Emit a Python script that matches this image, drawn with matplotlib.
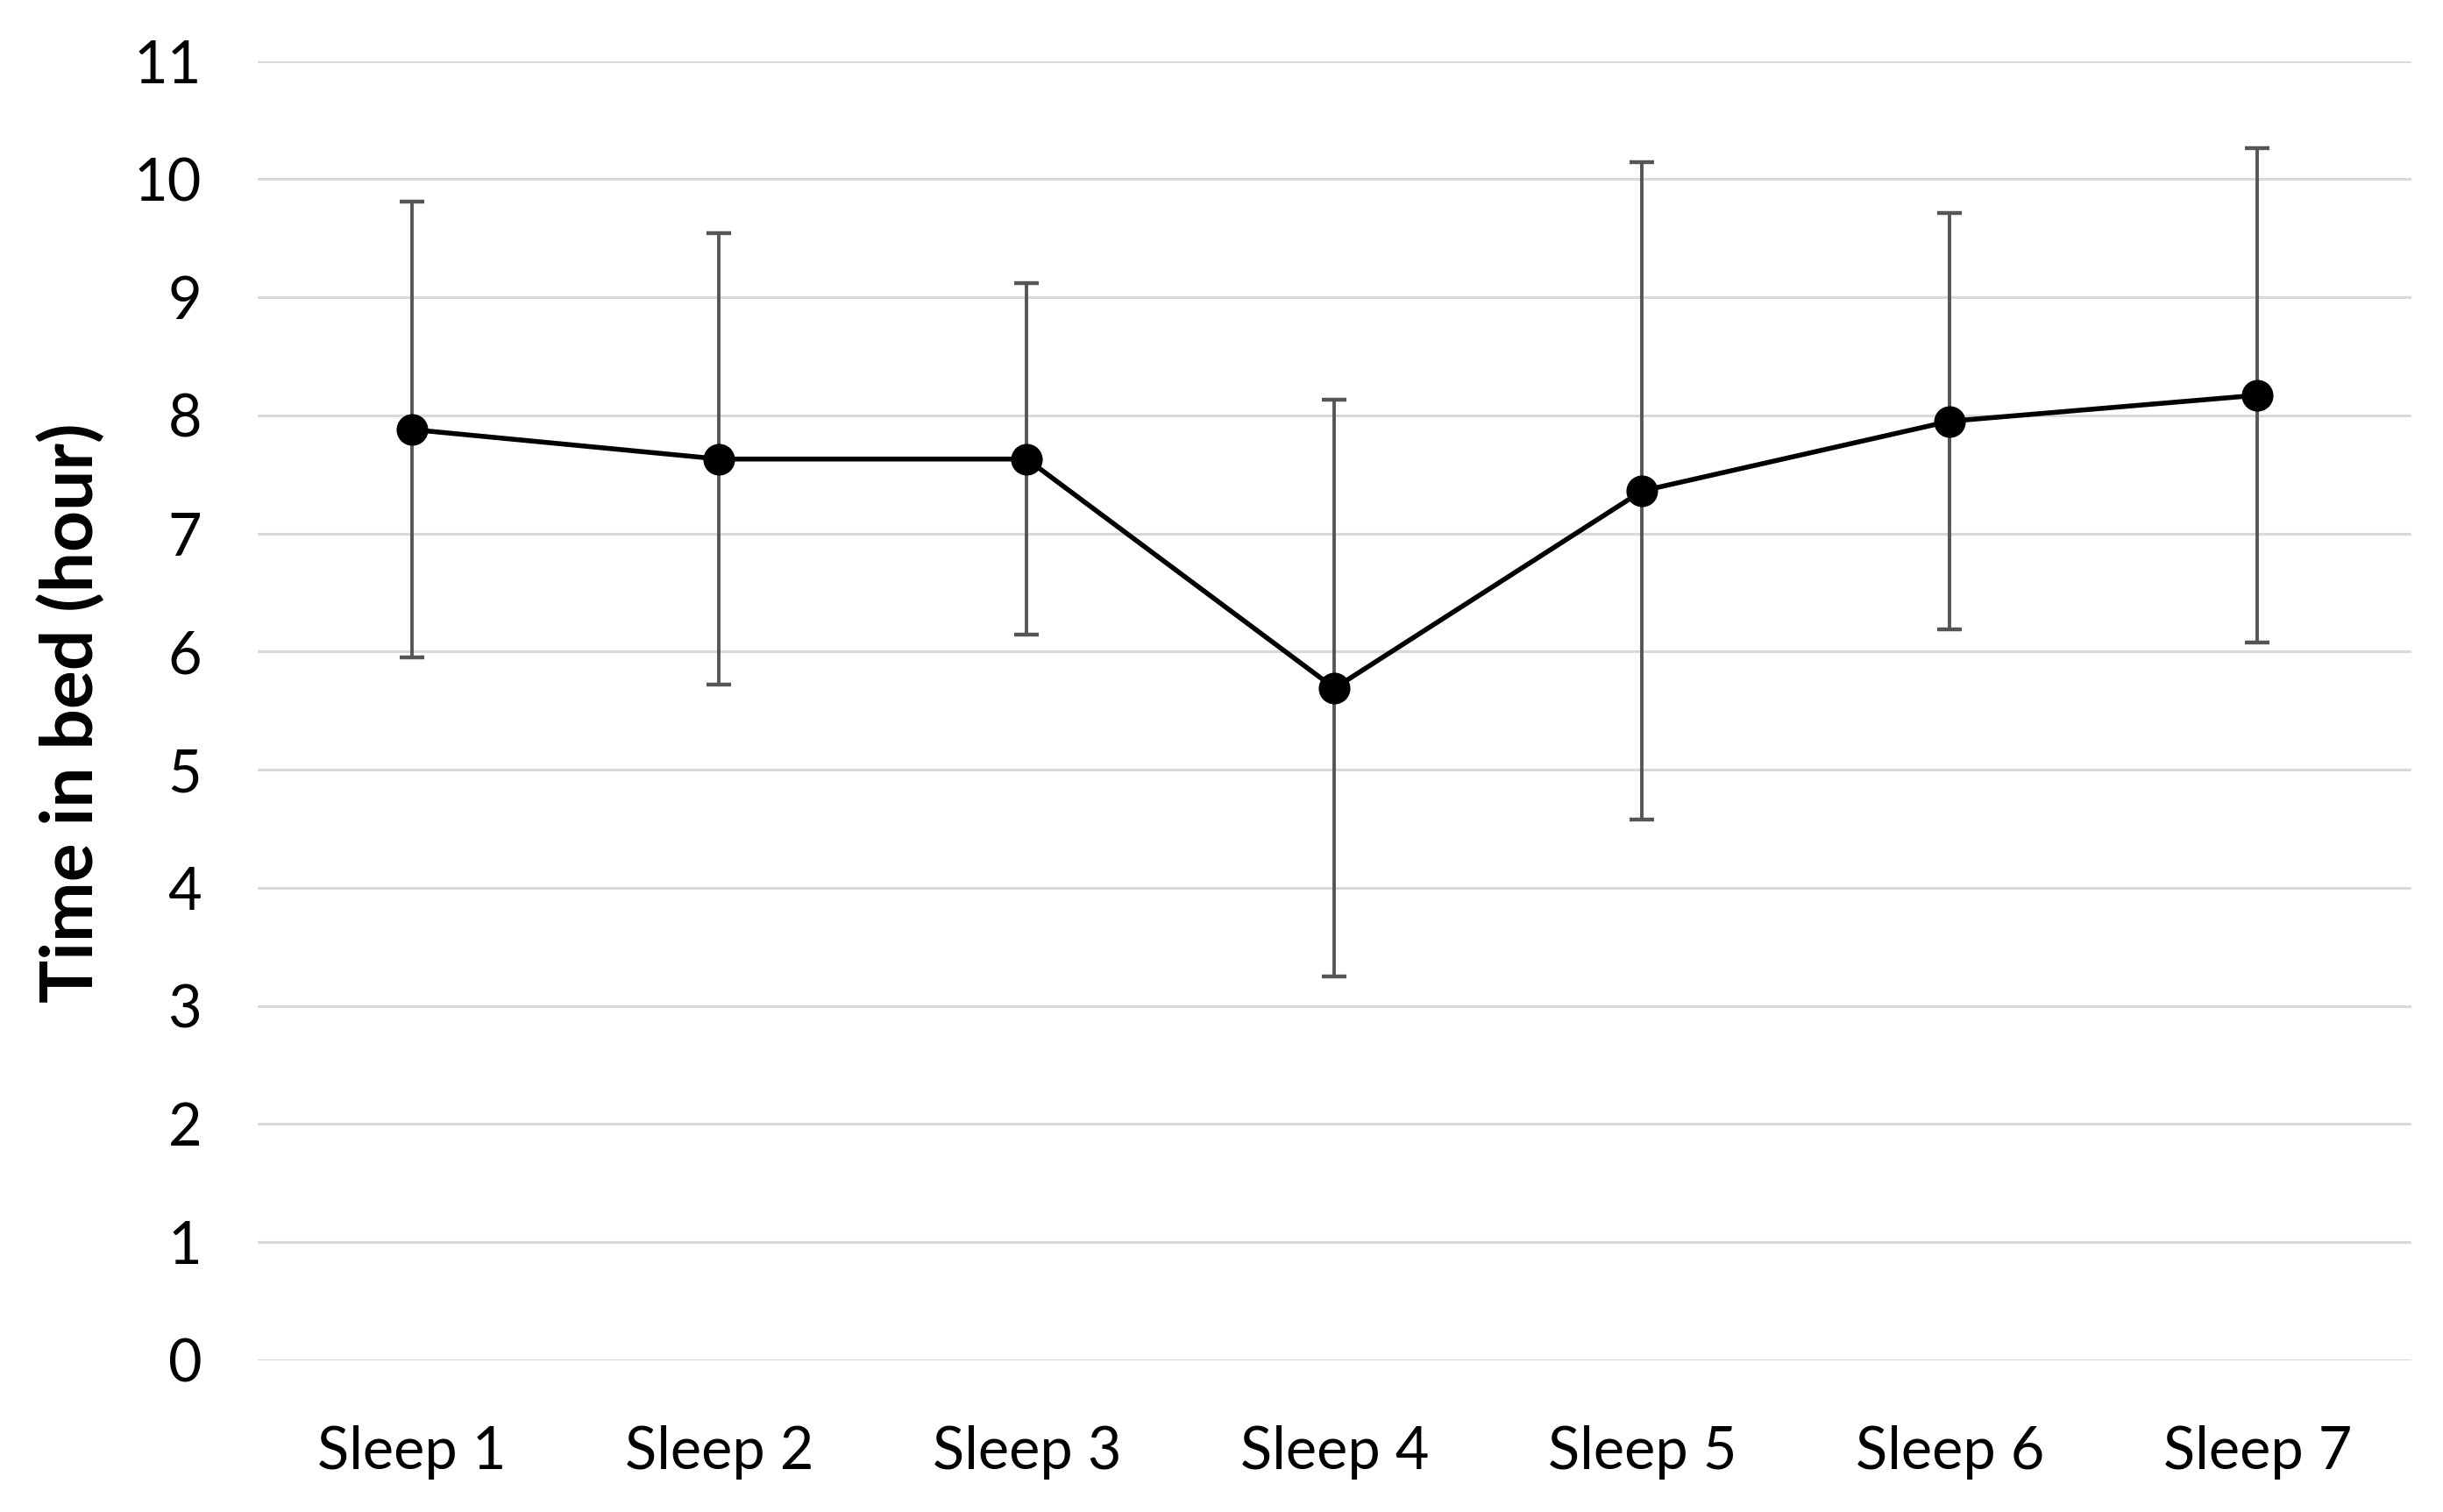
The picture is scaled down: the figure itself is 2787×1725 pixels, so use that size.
import matplotlib
matplotlib.use("Agg")
import matplotlib.pyplot as plt

categories = ["Sleep 1", "Sleep 2", "Sleep 3", "Sleep 4", "Sleep 5", "Sleep 6", "Sleep 7"]
means = [7.88, 7.63, 7.63, 5.69, 7.36, 7.95, 8.17]
sds = [1.93, 1.91, 1.49, 2.44, 2.78, 1.76, 2.09]
yticks = list(range(0, 12))

plt.rcParams['font.family'] = ['Lato', 'DejaVu Sans']

fig = plt.figure(figsize=(13.935, 8.625), dpi=200)
ax = fig.add_axes([0.1055, 0.1003, 0.8815, 0.8594])

x = list(range(len(categories)))
ax.errorbar(x, means, yerr=sds, fmt='none', ecolor='#555555', elinewidth=1.4,
            capsize=5, capthick=1.6, zorder=2)
ax.plot(x, means, color='black', linewidth=2.0, marker='o', markersize=12,
        markerfacecolor='black', markeredgecolor='black', zorder=3)

ax.set_xlim(-0.5, len(categories) - 0.5)
ax.set_ylim(0, 11)
ax.set_yticks(yticks)
ax.set_yticklabels([str(t) for t in yticks])
ax.set_xticks(x)
ax.set_xticklabels(categories)

ax.yaxis.grid(True, color='#d9d9d9', linewidth=1.1)
ax.set_axisbelow(True)
for s in ax.spines.values():
    s.set_visible(False)
ax.tick_params(axis='both', length=0, labelsize=24, colors='black')
ax.tick_params(axis='y', pad=23)
ax.tick_params(axis='x', pad=26.5)

fig.text(0.029, 0.5287, "Time in bed (hour)", rotation=90, fontsize=29.5,
         fontweight='bold', ha='center', va='center')

fig.savefig("out.png", dpi=200, facecolor='white')
